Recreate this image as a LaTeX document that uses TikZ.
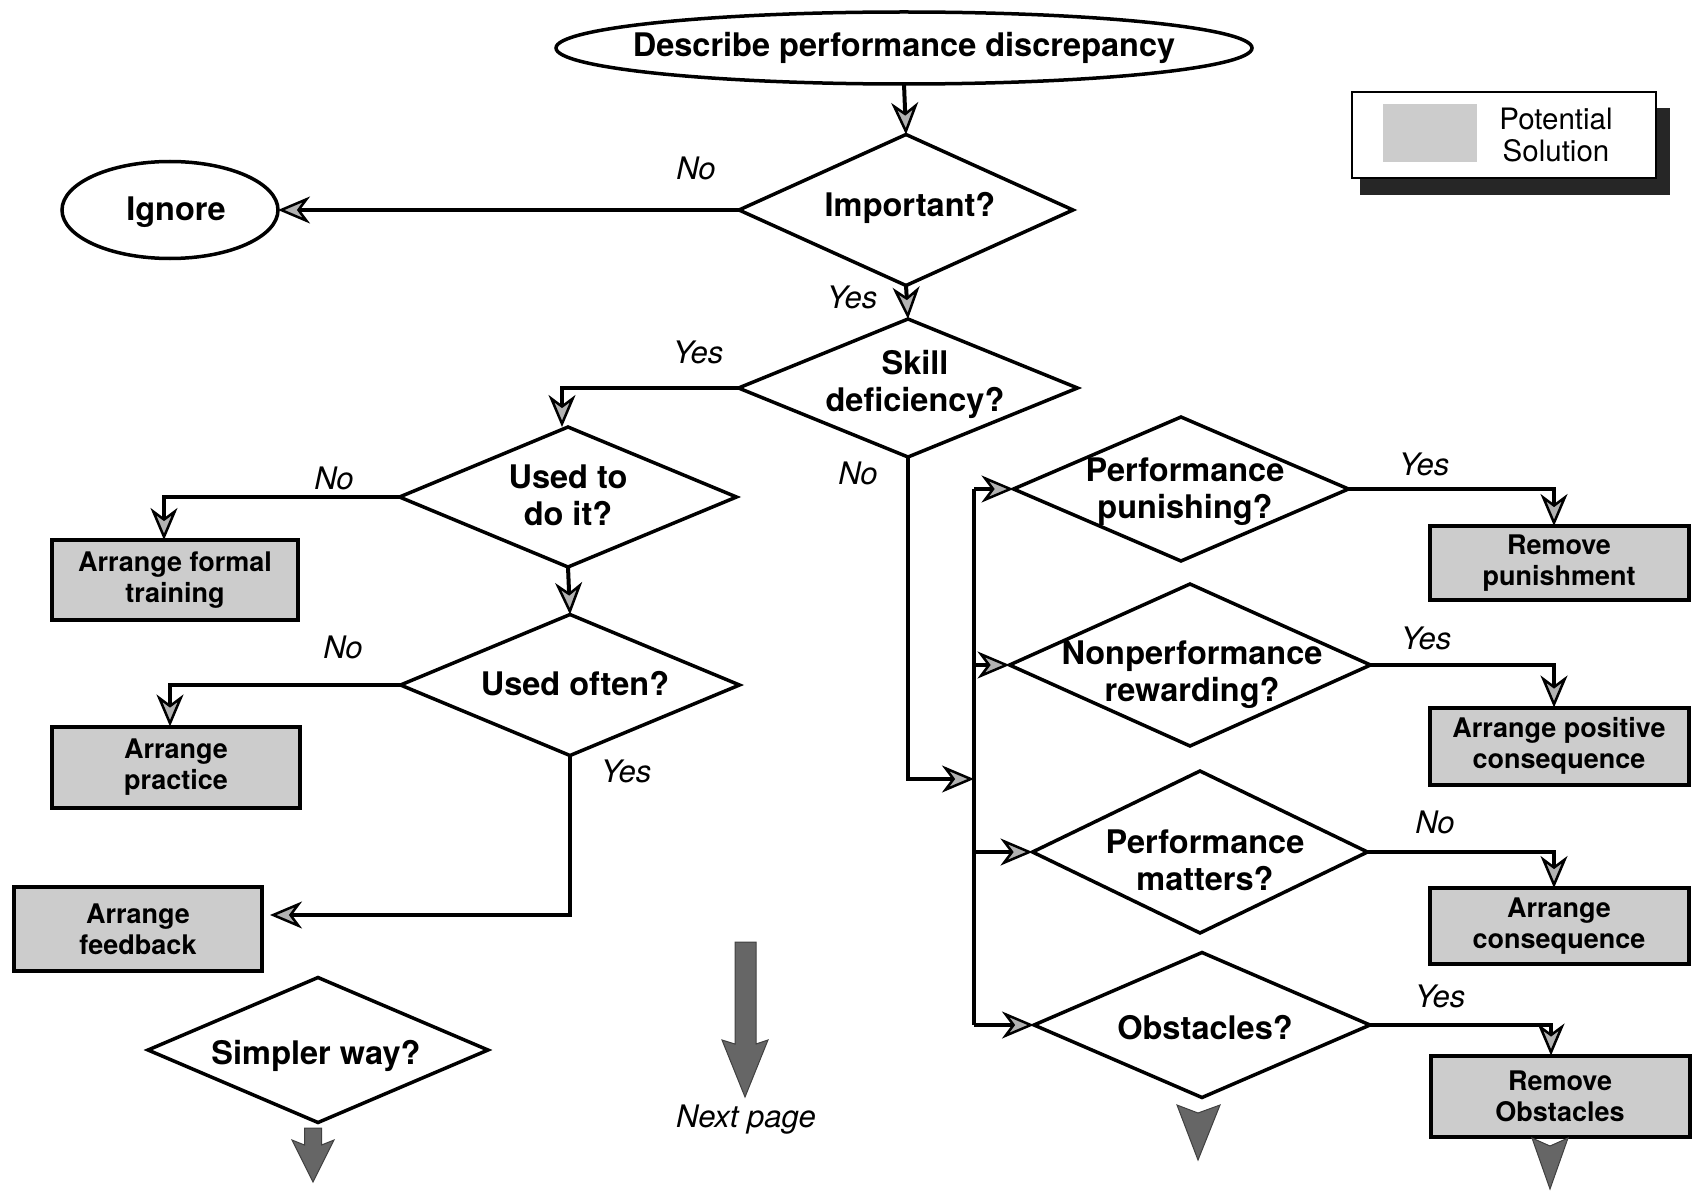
\documentclass[tikz,border=0pt]{standalone}
\usepackage{fontspec}
\setmainfont{TeX Gyre Heros}
\usetikzlibrary{shapes.geometric,arrows.meta,calc}
\begin{document}
\begin{tikzpicture}[x=1pt,y=-1pt,
  every node/.style={inner sep=0pt, outer sep=0pt},
  term/.style={draw, ellipse, line width=3.5pt},
  dec/.style={draw, diamond, line width=3.5pt},
  sol/.style={draw, rectangle, fill=black!20, line width=4pt, align=center,
    font=\fontsize{27}{31}\selectfont\bfseries},
  qtext/.style={align=center, font=\fontsize{32.5}{37}\selectfont\bfseries},
  ans/.style={font=\fontsize{31}{34}\selectfont\itshape},
  flow/.style={line width=4pt,
    -{Stealth[length=32pt,width=27pt,inset=10pt,fill=black!30,line width=2.5pt]}},
  cont/.style={fill=black!60, draw=black!75, line width=1pt},
]
\useasboundingbox (0,0) rectangle (1692,1193);

% ---------- legend ----------
\fill[black!85] (1360,108) rectangle (1670,195);
\node[draw, fill=white, line width=2pt, minimum width=304pt, minimum height=86pt]
  (legend) at (1504,135) {};
\node[fill=black!20, minimum width=94pt, minimum height=58pt] (swatch) at (1430,133) {};
\node[align=center, font=\fontsize{29.5}{32}\selectfont] (legend-t) at (1556,135)
  {Potential\\Solution};

% ---------- main spine ----------
\node[term, minimum width=696pt, minimum height=72pt] (desc) at (904,48) {};
\node[qtext] (desc-t) at (desc) {Describe performance discrepancy};

\node[dec, minimum width=334pt, minimum height=151pt] (imp) at (906,210) {};
\node[qtext] (imp-t) at (910,208) {Important?};

\node[term, minimum width=216pt, minimum height=97pt] (ignore) at (170,210) {};
\node[qtext] (ignore-t) at (176,212) {Ignore};

\node[dec, minimum width=339pt, minimum height=138pt] (skill) at (908,388) {};
\node[qtext] (skill-t) at (915,384) {Skill\\deficiency?};

% ---------- skill branch ----------
\node[dec, minimum width=337pt, minimum height=140pt] (used) at (568,497) {};
\node[qtext] (used-t) at (568,495) {Used to\\do it?};

\node[sol, minimum width=246pt, minimum height=80pt] (train) at (175,580)
  {Arrange formal\\training};

\node[dec, minimum width=339pt, minimum height=141pt] (often) at (570,685) {};
\node[qtext] (often-t) at (575,684) {Used often?};

\node[sol, minimum width=248pt, minimum height=81pt] (practice) at (176,767)
  {Arrange\\practice};

\node[sol, minimum width=248pt, minimum height=84pt] (feedback) at (138,929)
  {Arrange\\feedback};

\node[dec, minimum width=340pt, minimum height=145pt] (simpler) at (318,1050) {};
\node[qtext] (simpler-t) at (316,1056) {Simpler way?};

% ---------- motivation branch ----------
\coordinate (bus-top) at (974,489);
\coordinate (bus-in)  at (974,779);

\node[dec, minimum width=335pt, minimum height=144pt] (pun) at (1181,489) {};
\node[qtext] (pun-t) at (1185,492) {Performance\\punishing?};

\node[dec, minimum width=361pt, minimum height=162pt] (rew) at (1190,665) {};
\node[qtext] (rew-t) at (1192,675) {Nonperformance\\rewarding?};

\node[dec, minimum width=335pt, minimum height=162pt] (mat) at (1200,852) {};
\node[qtext] (mat-t) at (1205,860) {Performance\\matters?};

\node[dec, minimum width=336pt, minimum height=145pt] (obs) at (1202,1025) {};
\node[qtext] (obs-t) at (1205,1028) {Obstacles?};

\node[sol, minimum width=259pt, minimum height=74pt] (rp) at (1559,563)
  {Remove\\punishment};
\node[sol, minimum width=259pt, minimum height=77pt] (apc) at (1559,746)
  {Arrange positive\\consequence};
\node[sol, minimum width=259pt, minimum height=76pt] (ac) at (1559,926)
  {Arrange\\consequence};
\node[sol, minimum width=259pt, minimum height=81pt] (ro) at (1560,1096)
  {Remove\\Obstacles};

\coordinate (bus-bot) at (974,1025);

% ---------- connectors ----------
\draw[flow] (desc.south) -- (imp.north);
\draw[flow] (imp.west) -- (ignore.east);
\draw[flow] (imp.south) -- (skill.north);
\draw[flow] (skill.west) -| ([xshift=-6pt]used.north);
\draw[flow] (used.west) -| ([xshift=-11pt]train.north);
\draw[flow] (used.south) -- (often.north);
\draw[flow] (often.west) -| ([xshift=-6pt]practice.north);
\draw[flow, shorten >=8pt] (often.south) |- ([yshift=14pt]feedback.east);
\draw[flow] (skill.south) |- (bus-in);
\draw[line width=4pt] (bus-top) -- (bus-bot);
\draw[flow] (bus-top) -- (pun.west);
\draw[flow] (bus-top |- rew.west) -- (rew.west);
\draw[flow] (bus-top |- mat.west) -- (mat.west);
\draw[flow] (bus-bot) -- (obs.west);
\draw[flow] (pun.east) -| ([xshift=-5pt]rp.north);
\draw[flow] (rew.east) -| ([xshift=-5pt]apc.north);
\draw[flow] (mat.east) -| ([xshift=-5pt]ac.north);
\draw[flow] (obs.east) -| ([xshift=-9pt]ro.north);

% ---------- answer labels ----------
\node[ans] (l-imp-no)   at (696,168) {No};
\node[ans] (l-imp-yes)  at (852,297) {Yes};
\node[ans] (l-skill-yes) at (698,352) {Yes};
\node[ans] (l-skill-no) at (858,473) {No};
\node[ans] (l-used-no)  at (334,478) {No};
\node[ans] (l-often-no) at (343,647) {No};
\node[ans] (l-often-yes) at (626,771) {Yes};
\node[ans] (l-pun-yes)  at (1424,464) {Yes};
\node[ans] (l-rew-yes)  at (1426,638) {Yes};
\node[ans] (l-mat-no)   at (1435,822) {No};
\node[ans] (l-obs-yes)  at (1440,996) {Yes};

% ---------- continuation arrows ----------
\path[cont] (304.5,1128) -- (321.5,1128) -- (321.5,1145) -- (334,1140)
  -- (313,1182) -- (292,1140) -- (304.5,1145) -- cycle;

\path[cont] (735,942) -- (756,942) -- (756,1044) -- (768,1040)
  -- (745,1097) -- (722,1040) -- (735,1044) -- cycle;
\node[ans] (next-t) at (746,1120) {Next page};

\path[cont] (1177,1105) -- (1198,1113) -- (1220,1105) -- (1198,1160) -- cycle;
\path[cont] (1532,1138) -- (1550,1146) -- (1568,1138) -- (1550,1189) -- cycle;

\end{tikzpicture}
\end{document}
